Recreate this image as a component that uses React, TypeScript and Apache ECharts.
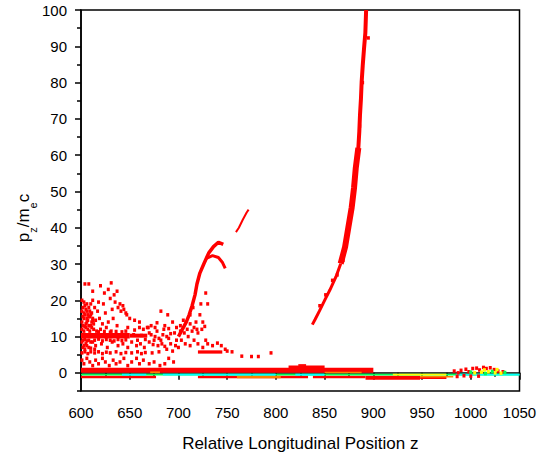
import React, { useEffect, useRef } from "react";
import * as echarts from "echarts";

const yLabelValues = [0, 10, 20, 30, 40, 50, 60, 70, 80, 90, 100];
const yMinorValues = [-5, 5, 15, 25, 35, 45, 55, 65, 75, 85, 95];

// Phase-space bands near p = 0 : [zStart, zEnd, pLow, pHigh]
const redBands = [
  [600, 900, 0, 1.4],
  [813, 850, 1.1, 2.0],
  [823, 831, 1.9, 2.4],
  [600, 677, -1.5, -0.8],
  [720, 833, -1.5, -0.8],
  [838, 892, -1.5, -0.8],
  [892, 948, -1.9, -0.8],
  [948, 975, -1.7, -1.0],
  [720, 745, 5.3, 6.2],
  [600, 650, 9.5, 11.0],
  [650, 668, 9.7, 10.8],
];
const orangeBands = [
  [671, 681, -0.1, 0.4],
  [760, 805, -1.5, -0.8],
  [850, 888, -0.1, 0.3],
  [948, 982, -1.3, -0.9],
];
const greenBands = [[600, 1050, -0.75, -0.25]];
const cyanBands = [
  [642, 667, -0.75, -0.25],
  [684, 800, -0.75, -0.25],
  [820, 850, -0.75, -0.25],
  [985, 1050, -0.75, -0.25],
];
const yellowBands = [[920, 975, -0.75, -0.25]];

// Main accelerated bunch
const spikeTop = [[884.6, 61.9], [885.6, 66.5], [886.3, 71], [887.3, 75.6], [888, 80.1], [889.1, 84.6], [890.4, 89.2], [891.8, 93.7], [892.6, 100]];
const spikeMid = [[866.5, 30.1], [871, 34.7], [874.4, 40.1], [877.8, 45.6], [880.2, 51], [882, 56.5], [884.6, 62]];
const spikeLow = [[837.4, 13.3], [840.2, 14.7], [844.6, 17], [850.4, 20.2], [855.5, 22.9], [861.7, 26.5], [866.5, 30.1]];

// Secondary bunch
const arcLine = [[700, 10], [704, 12], [708, 14], [711, 16], [714, 18.5], [717, 21.5], [719, 24.5], [722, 27.5], [726, 30], [731, 33], [736, 34.8], [741, 36], [746, 35.4]];
const hookLine = [[728, 31.5], [735, 32.3], [741, 31.8], [745, 30.5], [748, 28.8]];
const tailLine = [[759, 38.8], [762, 40], [766, 42.2], [770, 44.2], [772, 45]];

const redDots = [
  [604, 24.5], [608, 24.5], [620, 24], [631, 24.8], [612, 22.5], [624, 22], [628, 23], [634, 21.5], [637, 22.5],
  [601, 20], [603, 19.5], [606, 19], [612, 20], [618, 19.5], [623, 19], [630, 20.5], [635, 19.5], [640, 19], [643, 18.5],
  [601, 17], [603, 16.5], [605, 17.5], [607, 16], [609, 17], [611, 16.5], [614, 18], [617, 17], [625, 16.5], [632, 17.5], [638, 18], [641, 17], [644, 17.5], [646, 16.5], [647, 16],
  [601, 14], [603, 15], [605, 13.5], [607, 14.5], [609, 15.5], [611, 14], [613, 13.5], [615, 14.5], [619, 15], [622, 13.5], [628, 14], [633, 15], [637, 13],
  [601, 12], [603, 11.5], [605, 12.5], [607, 12], [609, 11.5], [611, 12.5], [613, 12], [616, 11.5], [620, 12], [626, 12.5], [631, 11.5], [648, 12.5], [655, 11.8], [660, 12.5], [664, 12], [668, 12.5], [672, 13], [676, 12.5],
  [672, 10.5], [676, 10], [680, 9.5], [684, 10.5], [688, 10], [692, 10.8], [696, 11],
  [601, 8.5], [603, 7.5], [605, 8], [608, 7], [612, 8.5], [615, 7.5], [621, 8], [627, 7], [632, 8.5], [638, 7.5], [643, 8], [648, 7], [652, 8.5], [657, 7.5], [661, 8], [665, 7], [670, 8.5], [675, 9], [679, 7.5], [683, 8], [688, 6.5], [692, 8], [697, 7.5],
  [601, 5.5], [604, 5.8], [607, 5.3], [610, 5.8], [614, 5.5], [618, 5.8], [622, 5.3], [626, 5.7], [630, 5.5], [636, 5.8], [641, 5.3], [646, 5.6], [652, 5.5], [658, 5.8], [662, 5.3], [666, 5.6], [673, 5.5], [680, 5.8],
  [750, 6], [755, 5.8], [765, 4.6], [775, 4.5], [782, 4.5], [795, 5.5],
  [601, 3.5], [603, 2.5], [606, 4], [609, 3], [612, 2], [615, 3.5], [618, 2.5], [622, 4], [625, 3], [629, 2], [633, 3.5], [636, 2.5], [640, 3], [644, 4], [648, 2], [652, 3], [657, 4], [660, 2.5], [664, 3.5], [670, 2.5], [675, 3], [681, 2], [686, 2.5], [690, 4], [695, 3],
  [660, 14], [669, 12.5], [678, 13.8], [682, 17], [686, 13], [690, 12.2], [694, 14], [698, 12.5], [702, 13], [705, 14.5], [709, 12], [712, 13.5], [716, 12.5], [719, 12], [724, 12], [727, 12.8],
  [703, 9], [707, 8], [712, 7.5], [716, 9], [720, 8], [725, 7], [728, 9], [730, 8], [735, 7.5], [740, 8.2], [744, 7.5], [748, 6.5],
  [728, 22], [730, 19], [722, 16], [725, 14], [720, 11], [715, 18], [712, 16], [718, 14], [723, 19], [706, 11], [710, 10], [714, 11.5], [702, 11.5],
  [602, 18], [604, 18.5], [606, 17], [608, 18], [610, 19], [602, 15.5], [604, 16], [606, 15], [608, 15.5], [610, 16], [612, 15],
  [602, 13], [604, 12.8], [606, 14], [608, 13], [610, 13], [612, 14.5],
  [602, 9], [604, 9.2], [606, 8.8], [608, 9], [610, 8.5], [614, 9], [618, 9.3], [622, 8.8], [626, 9.2], [630, 9], [634, 8.8], [638, 9.2], [642, 8.9], [646, 9.1],
  [602, 7], [604, 6.5], [606, 7.5], [610, 6.8], [614, 6.5],
  [618, 11.3], [624, 11.4], [630, 11.2], [636, 11.4], [642, 11.3], [646, 11.5],
  [654, 10.5], [658, 9], [662, 10.3], [666, 9.2], [670, 11], [674, 7.8], [678, 11.5], [682, 9], [686, 7.3], [690, 9.5], [694, 6], [698, 9], [700, 7], [685, 12], [689, 16], [655, 14.5], [650, 15],
  [845, 18.5], [851, 21.5], [858, 25.5], [863, 27], [869, 31], [872, 37], [878, 47], [882, 55], [886, 68], [889, 80], [894.9, 92.3],
  [983, 0.5], [987, 0], [990, 0.7], [995, 1], [998, 0.3], [1002, 1.2], [1006, 1.3], [1009, 0.8], [1013, 1.5], [1016, 1.2], [1020, 1.4], [1024, 0.9], [1028, 0.5], [1033, 0.3], [1008, -0.9], [1000, -0.9], [993, -0.8], [986, -1],
];
const yellowDots = [[1004, 0], [1011, 0.2], [1018, 0.3], [1025, 0], [1031, -0.1], [1014, 0.8], [1027, 0.9]];
const greenDots = [[1022, 0.4], [1035, 0.1], [1015, -0.2], [1000, 0.2]];

const FONT = "'Liberation Sans', Arial, sans-serif";

function bandSeries(data: number[][], color: string) {
  return {
    type: "custom",
    data,
    encode: { x: [0, 1], y: [2, 3] },
    clip: true,
    silent: true,
    renderItem: (params: any, api: any) => {
      const p0 = api.coord([api.value(0), api.value(3)]);
      const p1 = api.coord([api.value(1), api.value(2)]);
      return {
        type: "rect",
        shape: { x: p0[0], y: p0[1], width: p1[0] - p0[0], height: p1[1] - p0[1] },
        style: { fill: color },
      };
    },
  };
}

function lineSeries(data: number[][], width: number) {
  return {
    type: "line",
    data,
    showSymbol: false,
    smooth: false,
    silent: true,
    clip: true,
    lineStyle: { color: "#ff0000", width },
  };
}

function dotSeries(data: number[][], color: string) {
  return {
    type: "scatter",
    data,
    symbol: "rect",
    symbolSize: [3, 3.5],
    silent: true,
    itemStyle: { color, opacity: 1 },
  };
}

export default function App() {
  const ref = useRef<HTMLDivElement>(null);
  useEffect(() => {
    if (!ref.current) return;
    const chart = echarts.init(ref.current, null, { renderer: "svg" });
    chart.setOption({
      animation: false,
      backgroundColor: "#fff",
      grid: {
        left: 81,
        right: 28.5,
        top: 10,
        bottom: 62.5,
        show: true,
        borderColor: "#000",
        borderWidth: 1.5,
      },
      graphic: [
        {
          type: "text",
          x: 21,
          y: 218,
          rotation: Math.PI / 2,
          silent: true,
          style: {
            text: "{a|p}{s|z}{a|/m}{s|e}{a|c}",
            align: "center",
            verticalAlign: "middle",
            fill: "#000",
            font: `17px ${FONT}`,
            rich: {
              a: { fontFamily: FONT, fontSize: 17, fill: "#000", verticalAlign: "bottom", lineHeight: 22 },
              s: { fontFamily: FONT, fontSize: 11, fill: "#000", verticalAlign: "bottom", lineHeight: 22, padding: [0, 0, -6, 0] },
            },
          },
        },
      ],
      xAxis: {
        type: "value",
        min: 600,
        max: 1050,
        interval: 50,
        name: "Relative Longitudinal Position z",
        nameLocation: "middle",
        nameGap: 44,
        nameTextStyle: { fontFamily: FONT, fontSize: 17, color: "#000" },
        axisLine: { lineStyle: { color: "#000", width: 1.5 } },
        axisTick: { length: 7, lineStyle: { color: "#000", width: 1.5 } },
        minorTick: { show: true, splitNumber: 2, length: 4, lineStyle: { color: "#000", width: 1.5 } },
        axisLabel: { fontFamily: FONT, fontSize: 15, color: "#000", margin: 14, formatter: (v: number) => String(v) },
        splitLine: { show: false },
      },
      yAxis: [
        {
          type: "value",
          min: -5,
          max: 100,
          axisLine: { lineStyle: { color: "#000", width: 1.5 } },
          axisTick: { length: 6, customValues: yLabelValues, lineStyle: { color: "#000", width: 1.5 } },
          axisLabel: { fontFamily: FONT, fontSize: 15, color: "#000", margin: 14, customValues: yLabelValues },
          splitLine: { show: false },
        },
        {
          type: "value",
          min: -5,
          max: 100,
          position: "left",
          axisLine: { show: false },
          axisTick: { length: 4, customValues: yMinorValues, lineStyle: { color: "#000", width: 1.5 } },
          axisLabel: { show: false, customValues: yMinorValues },
          splitLine: { show: false },
        },
      ],
      series: [
        bandSeries(redBands, "#ff0000"),
        bandSeries(orangeBands, "#ff8000"),
        bandSeries(greenBands, "#00ff55"),
        bandSeries(cyanBands, "#00ffff"),
        bandSeries(yellowBands, "#ffff00"),
        lineSeries(spikeTop, 4),
        lineSeries(spikeMid, 6),
        lineSeries(spikeLow, 3),
        lineSeries(arcLine, 3.5),
        lineSeries(hookLine, 3),
        lineSeries(tailLine, 2),
        dotSeries(redDots, "#ff0000"),
        dotSeries(yellowDots, "#ffff00"),
        dotSeries(greenDots, "#00ff55"),
      ],
    });
    return () => chart.dispose();
  }, []);
  return <div ref={ref} style={{ position: "fixed", left: 0, top: 0, width: 548, height: 457 }} />;
}
